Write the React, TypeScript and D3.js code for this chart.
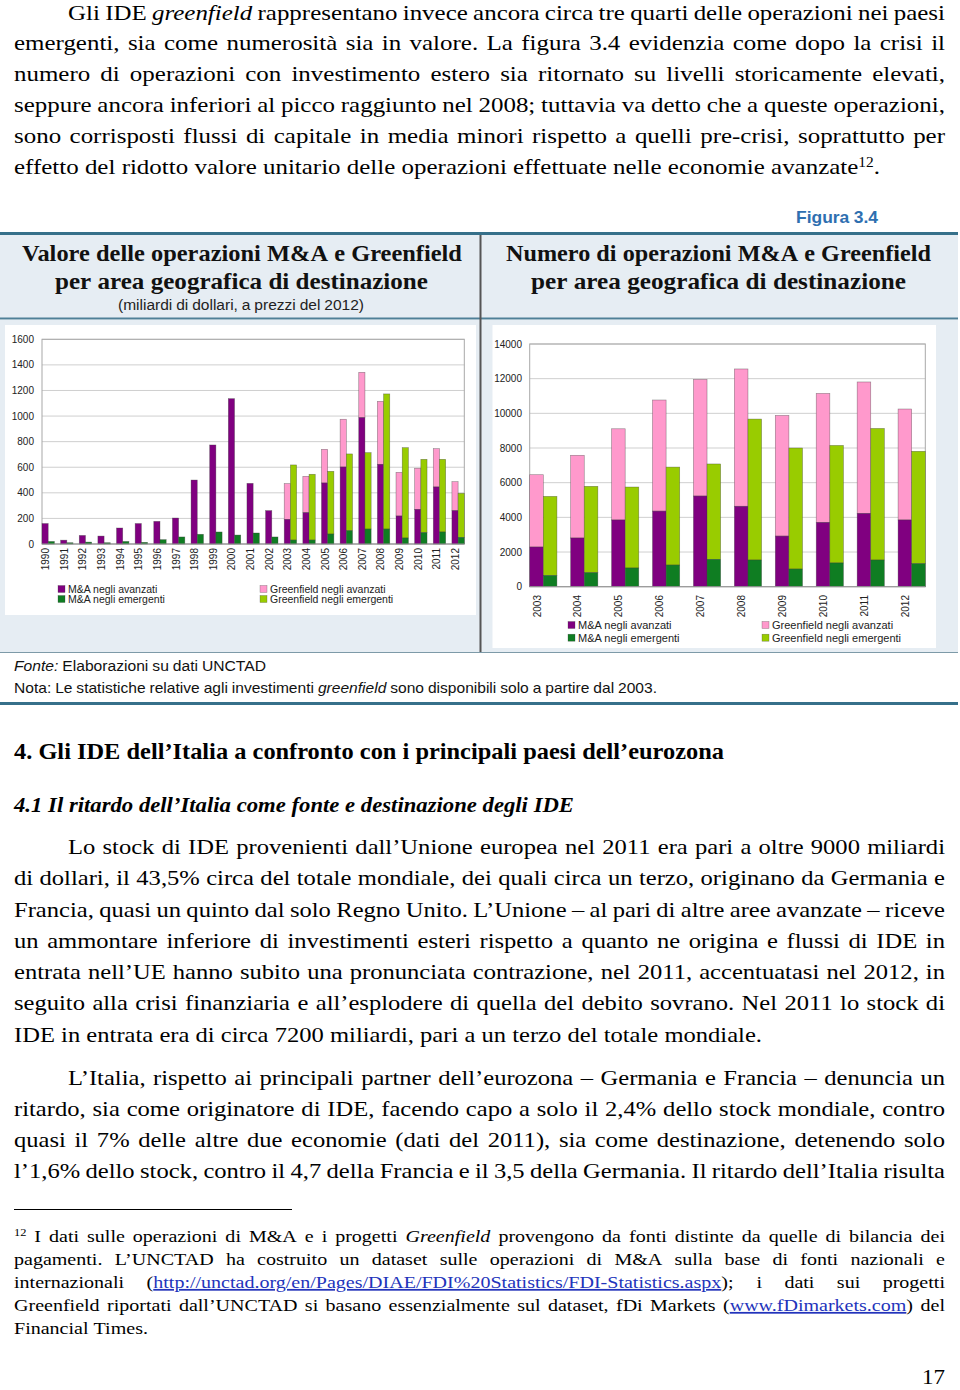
import React, { useEffect, useRef } from 'react';
import * as d3 from 'd3';

// ---------- DATA ----------
const valueYears = ['1990','1991','1992','1993','1994','1995','1996','1997','1998','1999','2000','2001','2002','2003','2004','2005','2006','2007','2008','2009','2010','2011','2012'];
const valueMaAvanzati = [160,30,67,62,125,160,177,203,500,774,1136,474,261,193,245,477,602,988,623,219,271,446,261];
const valueGfAvanzati = [0,0,0,0,0,0,0,0,0,0,0,0,0,279,284,263,373,354,492,341,321,299,226];
const valueMaEmergenti = [20,10,15,10,20,13,34,55,76,94,70,86,55,31,31,78,104,117,117,47,89,94,52];
const valueGfEmergenti = [0,0,0,0,0,0,0,0,0,0,0,0,0,587,514,490,600,597,1056,706,573,568,344];

const countYears = ['2003','2004','2005','2006','2007','2008','2009','2010','2011','2012'];
const countMaAvanzati = [2290,2810,3850,4360,5230,4640,2920,3710,4230,3850];
const countGfAvanzati = [4170,4770,5260,6410,6730,7920,6960,7440,7580,6400];
const countMaEmergenti = [650,810,1080,1250,1580,1540,1020,1370,1540,1330];
const countGfEmergenti = [4560,4980,4670,5650,5500,8130,6980,6780,7590,6480];

const legendLabels = ['M&A negli avanzati','M&A negli emergenti','Greenfield negli avanzati','Greenfield negli emergenti'];

const para1 = [
  'Gli IDE _greenfield_ rappresentano invece ancora circa tre quarti delle operazioni nei paesi',
  'emergenti, sia come numerosità sia in valore. La figura 3.4 evidenzia come dopo la crisi il',
  'numero di operazioni con investimento estero sia ritornato su livelli storicamente elevati,',
  'seppure ancora inferiori al picco raggiunto nel 2008; tuttavia va detto che a queste operazioni,',
  'sono corrisposti flussi di capitale in media minori rispetto a quelli pre-crisi, soprattutto per',
  'effetto del ridotto valore unitario delle operazioni effettuate nelle economie avanzate^12^.',
];
const para2 = [
  'Lo stock di IDE provenienti dall’Unione europea nel 2011 era pari a oltre 9000 miliardi',
  'di dollari, il 43,5% circa del totale mondiale, dei quali circa un terzo, originano da Germania e',
  'Francia, quasi un quinto dal solo Regno Unito. L’Unione – al pari di altre aree avanzate – riceve',
  'un ammontare inferiore di investimenti esteri rispetto a quanto ne origina e flussi di IDE in',
  'entrata nell’UE hanno subito una pronunciata contrazione, nel 2011, accentuatasi nel 2012, in',
  'seguito alla crisi finanziaria e all’esplodere di quella del debito sovrano. Nel 2011 lo stock di',
  'IDE in entrata era di circa 7200 miliardi, pari a un terzo del totale mondiale.',
];
const para3 = [
  'L’Italia, rispetto ai principali partner dell’eurozona – Germania e Francia – denuncia un',
  'ritardo, sia come originatore di IDE, facendo capo a solo il 2,4% dello stock mondiale, contro',
  'quasi il 7% delle altre due economie (dati del 2011), sia come destinazione, detenendo solo',
  'l’1,6% dello stock, contro il 4,7 della Francia e il 3,5 della Germania. Il ritardo dell’Italia risulta',
];
const footnote = [
  '^12^ I dati sulle operazioni di M&A e i progetti _Greenfield_ provengono da fonti distinte da quelle di bilancia dei',
  'pagamenti. L’UNCTAD ha costruito un dataset sulle operazioni di M&A sulla base di fonti nazionali e',
  'internazionali ([http://unctad.org/en/Pages/DIAE/FDI%20Statistics/FDI-Statistics.aspx]); i dati sui progetti',
  'Greenfield riportati dall’UNCTAD si basano essenzialmente sul dataset, fDi Markets ([www.fDimarkets.com]) del',
  'Financial Times.',
];

const SERIF = "'Liberation Serif', 'DejaVu Serif', serif";
const SANS = "'Liberation Sans', Arial, sans-serif";
const C_PURPLE = '#800080';
const C_PINK = '#ff99cc';
const C_DGREEN = '#0f7d22';
const C_LGREEN = '#99cc00';

type LineOpts = {
  x0: number; x1: number; y: number; mode: 'justify' | 'fit' | 'natural';
  size: number; family: string; weight?: string; fontStyle?: string; fill?: string; sx?: number;
};

function drawLine(g: any, text: string, o: LineOpts): number {
  const words = text.split(' ').filter((w) => w.length);
  const nodes = words.map((w) => {
    const t = g.append('text')
      .attr('font-family', o.family).attr('font-size', o.size)
      .attr('font-weight', o.weight || 'normal').attr('font-style', o.fontStyle || 'normal')
      .attr('fill', o.fill || '#000');
    w.split(/(_[^_]+_|\^[^^]+\^|\[[^\]]+\])/).filter(Boolean).forEach((s) => {
      if (s[0] === '_' && s.length > 2 && s.endsWith('_')) t.append('tspan').attr('font-style', 'italic').text(s.slice(1, -1));
      else if (s[0] === '^' && s.length > 2) t.append('tspan').attr('font-size', o.size * 0.62).attr('baseline-shift', 'super').text(s.slice(1, -1));
      else if (s[0] === '[') t.append('tspan').attr('fill', '#2233bb').attr('text-decoration', 'underline').text(s.slice(1, -1));
      else t.append('tspan').text(s);
    });
    return t;
  });
  const nat = nodes.map((n: any) => (n.node() as SVGTextElement).getComputedTextLength());
  const space = o.size * 0.25;
  let sx = o.sx ?? 1;
  if (o.mode === 'fit') sx = (o.x1 - o.x0) / (d3.sum(nat) + space * (words.length - 1));
  const widths = nat.map((w: number) => w * sx);
  let gap = space * sx;
  if (o.mode === 'justify' && words.length > 1) gap = (o.x1 - o.x0 - d3.sum(widths)) / (words.length - 1);
  let x = o.x0;
  nodes.forEach((n: any, i: number) => {
    n.attr('transform', `translate(${x},${o.y}) scale(${sx},1)`);
    x += widths[i] + gap;
  });
  return sx;
}

type ChartProps = {
  years: string[]; maAv: number[]; gfAv: number[]; maEm: number[]; gfEm: number[];
  left: number; right: number; top: number; bottom: number; max: number; step: number;
  box: [number, number, number, number]; tickX: number; labelTop: number;
  legendRows: [number, number]; legendCols: [number, number]; legendSize: number;
};

function BarChart(p: ChartProps) {
  const x = d3.scaleBand<string>().domain(p.years).range([p.left, p.right]).paddingInner(0.335).paddingOuter(0);
  const y = d3.scaleLinear().domain([0, p.max]).range([p.bottom, p.top]);
  const ticks = d3.range(0, p.max + 1, p.step);
  const bw = x.bandwidth() / 2;
  const stroke = 'rgba(60,60,60,0.55)';
  return (
    <g>
      <rect x={p.box[0]} y={p.box[1]} width={p.box[2]} height={p.box[3]} fill="#fff" />
      {ticks.map((t) => (
        <line key={'g' + t} x1={p.left} x2={p.right} y1={y(t)} y2={y(t)} stroke="#cfcfcf" strokeWidth={1} />
      ))}
      {ticks.map((t) => (
        <text key={'t' + t} x={p.tickX} y={y(t) + 3.5} textAnchor="end" fontFamily={SANS} fontSize={10} fill="#222">{t}</text>
      ))}
      <rect x={p.left} y={p.top} width={p.right - p.left} height={p.bottom - p.top} fill="none" stroke="#a8a8a8" strokeWidth={1} />
      {p.years.map((yr, i) => {
        const x0 = x(yr) as number;
        return (
          <g key={yr}>
            {p.gfAv[i] > 0 && (
              <rect x={x0} y={y(p.maAv[i] + p.gfAv[i])} width={bw} height={y(p.maAv[i]) - y(p.maAv[i] + p.gfAv[i])} fill={C_PINK} stroke={stroke} strokeWidth={0.6} />
            )}
            <rect x={x0} y={y(p.maAv[i])} width={bw} height={y(0) - y(p.maAv[i])} fill={C_PURPLE} stroke={stroke} strokeWidth={0.6} />
            {p.gfEm[i] > 0 && (
              <rect x={x0 + bw} y={y(p.maEm[i] + p.gfEm[i])} width={bw} height={y(p.maEm[i]) - y(p.maEm[i] + p.gfEm[i])} fill={C_LGREEN} stroke={stroke} strokeWidth={0.6} />
            )}
            <rect x={x0 + bw} y={y(p.maEm[i])} width={bw} height={y(0) - y(p.maEm[i])} fill={C_DGREEN} stroke={stroke} strokeWidth={0.6} />
            <text transform={`translate(${x0 + bw / 2 + 4},${p.labelTop}) rotate(-90)`} textAnchor="end" fontFamily={SANS} fontSize={10} fill="#222">{yr}</text>
          </g>
        );
      })}
      <line x1={p.left} x2={p.right} y1={y(0)} y2={y(0)} stroke="#999" />
      {legendLabels.map((lab, i) => {
        const col = i < 2 ? 0 : 1;
        const row = i % 2;
        const colors = [C_PURPLE, C_DGREEN, C_PINK, C_LGREEN];
        const lx = p.legendCols[col];
        const ly = p.legendRows[row];
        return (
          <g key={lab}>
            <rect x={lx} y={ly - 3.5} width={7} height={7} fill={colors[i]} stroke={stroke} strokeWidth={0.5} />
            <text x={lx + 10} y={ly + 3.8} fontFamily={SANS} fontSize={p.legendSize} fill="#222">{lab}</text>
          </g>
        );
      })}
    </g>
  );
}

export default function App() {
  const textRef = useRef<SVGGElement>(null);

  useEffect(() => {
    const g = d3.select(textRef.current);
    g.selectAll('*').remove();
    const body = { size: 22, family: SERIF };
    // paragraph 1
    const p1y = [20, 50, 81, 112, 143, 174];
    const sx1 = drawLine(g, para1[5], { ...body, x0: 14, x1: 880, y: p1y[5], mode: 'fit' });
    para1.slice(0, 5).forEach((l, i) => drawLine(g, l, { ...body, x0: i === 0 ? 68 : 14, x1: 945, y: p1y[i], mode: 'justify', sx: sx1 }));

    // headings
    drawLine(g, '4. Gli IDE dell’Italia a confronto con i principali paesi dell’eurozona', { size: 23, family: SERIF, weight: 'bold', x0: 14, x1: 724, y: 759, mode: 'fit' });
    drawLine(g, '4.1 Il ritardo dell’Italia come fonte e destinazione degli IDE', { size: 22, family: SERIF, weight: 'bold', fontStyle: 'italic', x0: 14, x1: 574, y: 812, mode: 'fit' });

    // paragraph 2
    const p2y = [854, 885, 917, 948, 979, 1010, 1042];
    const sx2 = drawLine(g, para2[6], { ...body, x0: 14, x1: 762, y: p2y[6], mode: 'fit' });
    para2.slice(0, 6).forEach((l, i) => drawLine(g, l, { ...body, x0: i === 0 ? 68 : 14, x1: 945, y: p2y[i], mode: 'justify', sx: sx2 }));

    // paragraph 3
    const p3y = [1085, 1116, 1147, 1178];
    para3.forEach((l, i) => drawLine(g, l, { ...body, x0: i === 0 ? 68 : 14, x1: 945, y: p3y[i], mode: 'justify', sx: sx2 }));

    // footnote
    const fy = [1242, 1265, 1288, 1311, 1334];
    const fs = { size: 17.5, family: SERIF };
    const sxf = drawLine(g, footnote[4], { ...fs, x0: 14, x1: 148, y: fy[4], mode: 'fit' });
    footnote.slice(0, 4).forEach((l, i) => drawLine(g, l, { ...fs, x0: 14, x1: 945, y: fy[i], mode: 'justify', sx: sxf }));

    // page number
    drawLine(g, '17', { size: 22, family: SERIF, x0: 922, x1: 945, y: 1384, mode: 'fit' });

    // figure texts
    drawLine(g, 'Figura 3.4', { size: 16, family: SANS, weight: 'bold', fill: '#2e6fb0', x0: 796, x1: 878, y: 223, mode: 'fit' });
    const tf = { size: 23, family: SERIF, weight: 'bold', fill: '#111' };
    drawLine(g, 'Valore delle operazioni M&A e Greenfield', { ...tf, x0: 22, x1: 462, y: 261, mode: 'fit' });
    drawLine(g, 'per area geografica di destinazione', { ...tf, x0: 55, x1: 428, y: 289, mode: 'fit' });
    drawLine(g, 'Numero di operazioni M&A e Greenfield', { ...tf, x0: 506, x1: 931, y: 261, mode: 'fit' });
    drawLine(g, 'per area geografica di destinazione', { ...tf, x0: 531, x1: 906, y: 289, mode: 'fit' });
    drawLine(g, '(miliardi di dollari, a prezzi del 2012)', { size: 14, family: SANS, fill: '#222', x0: 118, x1: 364, y: 310, mode: 'fit' });

    // source
    drawLine(g, '_Fonte:_ Elaborazioni su dati UNCTAD', { size: 15, family: SANS, fill: '#111', x0: 14, x1: 266, y: 671, mode: 'fit' });
    drawLine(g, 'Nota: Le statistiche relative agli investimenti _greenfield_ sono disponibili solo a partire dal 2003.', { size: 15, family: SANS, fill: '#111', x0: 14, x1: 657, y: 693, mode: 'fit' });
  }, []);

  const BG = '#e6edf3';
  return (
    <svg width={960} height={1390} style={{ position: 'absolute', left: 0, top: 0, display: 'block' }}>
      <rect x={0} y={0} width={960} height={1390} fill="#fff" />
      {/* figure frame */}
      <rect x={0} y={234} width={958} height={84} fill={BG} />
      <rect x={0} y={320} width={958} height={332} fill={BG} />
      <line x1={0} x2={958} y1={233.5} y2={233.5} stroke="#36708a" strokeWidth={3} />
      <line x1={0} x2={958} y1={318.5} y2={318.5} stroke="#4f8097" strokeWidth={2} />
      <BarChart
        years={valueYears} maAv={valueMaAvanzati} gfAv={valueGfAvanzati} maEm={valueMaEmergenti} gfEm={valueGfEmergenti}
        left={42} right={464.3} top={339.3} bottom={544} max={1600} step={200}
        box={[5, 325, 471, 290]} tickX={34} labelTop={548}
        legendRows={[589, 599]} legendCols={[58, 260]} legendSize={10.5}
      />
      <BarChart
        years={countYears} maAv={countMaAvanzati} gfAv={countGfAvanzati} maEm={countMaEmergenti} gfEm={countGfEmergenti}
        left={529.7} right={925.3} top={344} bottom={586.7} max={14000} step={2000}
        box={[492.5, 325, 443.5, 323]} tickX={522} labelTop={595}
        legendRows={[625, 637.7]} legendCols={[568, 762]} legendSize={11}
      />
      <line x1={480.5} x2={480.5} y1={235} y2={652} stroke="#555" strokeWidth={2} />
      <line x1={0} x2={958} y1={652.5} y2={652.5} stroke="#7d9aa8" strokeWidth={1} />
      <line x1={0} x2={958} y1={703.5} y2={703.5} stroke="#36708a" strokeWidth={3} />
      {/* footnote rule */}
      <line x1={14} x2={292} y1={1209.5} y2={1209.5} stroke="#000" strokeWidth={1} />
      <g ref={textRef} />
    </svg>
  );
}
